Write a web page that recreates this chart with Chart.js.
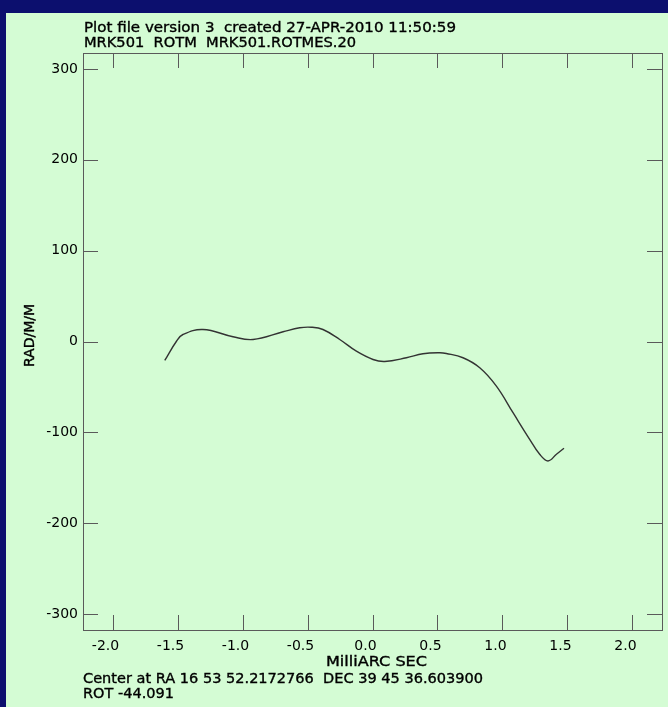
<!DOCTYPE html>
<html>
<head>
<meta charset="utf-8">
<title>MRK501 ROTM</title>
<script src="https://cdn.jsdelivr.net/npm/chart.js@4.4.1/dist/chart.umd.min.js"></script>
<style>
  html, body { margin: 0; padding: 0; background: #0c0f6e; }
  canvas { display: block; }
</style>
</head>
<body>
<canvas id="rotmPlot" width="668" height="707"></canvas>
<script>
// rotation measure slice along the jet (milliarcsec vs rad/m/m)
const sliceOffset = [-1.598, -1.508, -1.458, -1.304, -1.073, -0.919, -0.688, -0.560, -0.470, -0.381,
                     -0.252, -0.124, 0.004, 0.094, 0.261, 0.388, 0.517, 0.568, 0.696, 0.825,
                     0.953, 1.081, 1.209, 1.286, 1.350, 1.415, 1.473];
const rotationMeasure = [-20.9, 0.3, 7.7, 13.2, 5.2, 2.2, 10.7, 15.1, 15.7, 13.2,
                         2.2, -10.7, -19.8, -22.0, -17.9, -13.5, -12.4, -13.2, -17.9, -28.9,
                         -49.1, -78.4, -107.7, -124.2, -131.5, -124.2, -117.6];
const xTickValues = [-2.0, -1.5, -1.0, -0.5, 0.0, 0.5, 1.0, 1.5, 2.0];
const yTickValues = [-300, -200, -100, 0, 100, 200, 300];

const headerLines = ['Plot file version 3  created 27-APR-2010 11:50:59', 'MRK501  ROTM  MRK501.ROTMES.20'];
const footerLines = ['Center at RA 16 53 52.2172766  DEC 39 45 36.603900', 'ROT -44.091'];
const xTitle = 'MilliARC SEC';
const yTitle = 'RAD/M/M';

const FONT = '"DejaVu Sans", "Liberation Sans", sans-serif';
const INK = '#000000';
const FRAME = '#5a5a5a';

// the plot's stroke font runs a bit wider than DejaVu, so stretch each line to its width
function fitText(ctx, text, x, y, width) {
  const w = ctx.measureText(text).width;
  ctx.save();
  ctx.translate(x, y);
  ctx.scale(width / w, 1);
  ctx.fillText(text, 0, 0);
  ctx.strokeText(text, 0, 0);
  ctx.restore();
}

// blue border + green page, then frame, inward ticks and the text blocks
const plotDecor = {
  id: 'plotDecor',
  beforeDraw(chart) {
    const ctx = chart.ctx;
    ctx.save();
    ctx.fillStyle = '#0c0f6e';
    ctx.fillRect(0, 0, chart.width, chart.height);
    ctx.fillStyle = '#d4fcd4';
    ctx.fillRect(6, 13, chart.width - 6, chart.height - 13);
    ctx.restore();
  },
  afterDraw(chart) {
    const ctx = chart.ctx;
    const area = chart.chartArea;
    const xs = chart.scales.x;
    const ys = chart.scales.y;
    const tick = 15;
    ctx.save();
    ctx.strokeStyle = FRAME;
    ctx.lineWidth = 1;
    ctx.strokeRect(area.left + 0.5, area.top + 0.5, area.right - area.left, area.bottom - area.top);
    ctx.beginPath();
    xTickValues.forEach(v => {
      const px = Math.round(xs.getPixelForValue(v)) + 0.5;
      ctx.moveTo(px, area.top);
      ctx.lineTo(px, area.top + tick);
      ctx.moveTo(px, area.bottom);
      ctx.lineTo(px, area.bottom - tick);
    });
    yTickValues.forEach(v => {
      const py = Math.round(ys.getPixelForValue(v)) + 0.5;
      ctx.moveTo(area.left, py);
      ctx.lineTo(area.left + tick, py);
      ctx.moveTo(area.right, py);
      ctx.lineTo(area.right - tick, py);
    });
    ctx.stroke();

    // light stroke on the captions to give them the plot font's heavier look
    ctx.fillStyle = INK;
    ctx.strokeStyle = INK;
    ctx.lineWidth = 0.35;
    ctx.font = '14px ' + FONT;
    ctx.textAlign = 'left';
    ctx.textBaseline = 'alphabetic';
    fitText(ctx, headerLines[0], area.left + 1, 32, 372);
    fitText(ctx, headerLines[1], area.left + 1, 46.5, 272);
    fitText(ctx, footerLines[0], area.left, 682.5, 400);
    fitText(ctx, footerLines[1], area.left, 697.5, 91);
    fitText(ctx, xTitle, 326, 666, 101);

    ctx.translate(34, (area.top + area.bottom) / 2 - 6);
    ctx.rotate(-Math.PI / 2);
    ctx.textAlign = 'center';
    ctx.fillText(yTitle, 0, 0);
    ctx.strokeText(yTitle, 0, 0);
    ctx.restore();
  }
};

new Chart(document.getElementById('rotmPlot'), {
  type: 'scatter',
  data: {
    datasets: [{
      data: sliceOffset.map((x, i) => ({ x: x, y: rotationMeasure[i] })),
      showLine: true,
      borderColor: '#333333',
      borderWidth: 1.4,
      tension: 0.4,
      pointRadius: 0,
      fill: false
    }]
  },
  options: {
    responsive: false,
    animation: false,
    devicePixelRatio: 1,
    layout: { padding: { left: 0, top: 53, right: 6, bottom: 0 } },
    plugins: { legend: { display: false }, tooltip: { enabled: false } },
    scales: {
      x: {
        type: 'linear',
        min: -2.227,
        max: 2.227,
        afterBuildTicks: s => { s.ticks = xTickValues.map(v => ({ value: v })); },
        afterFit: s => { s.height = 77; },
        grid: { display: false, drawTicks: false },
        border: { display: false },
        ticks: {
          color: INK,
          font: { family: FONT, size: 14 },
          padding: 8,
          labelOffset: -7,
          maxRotation: 0,
          callback: v => v.toFixed(1)
        }
      },
      y: {
        type: 'linear',
        min: -317.6,
        max: 317.6,
        afterBuildTicks: s => { s.ticks = yTickValues.map(v => ({ value: v })); },
        afterFit: s => { s.width = 83; },
        grid: { display: false, drawTicks: false },
        border: { display: false },
        ticks: {
          color: INK,
          font: { family: FONT, size: 14 },
          padding: 5
        }
      }
    }
  },
  plugins: [plotDecor]
});
</script>
</body>
</html>
